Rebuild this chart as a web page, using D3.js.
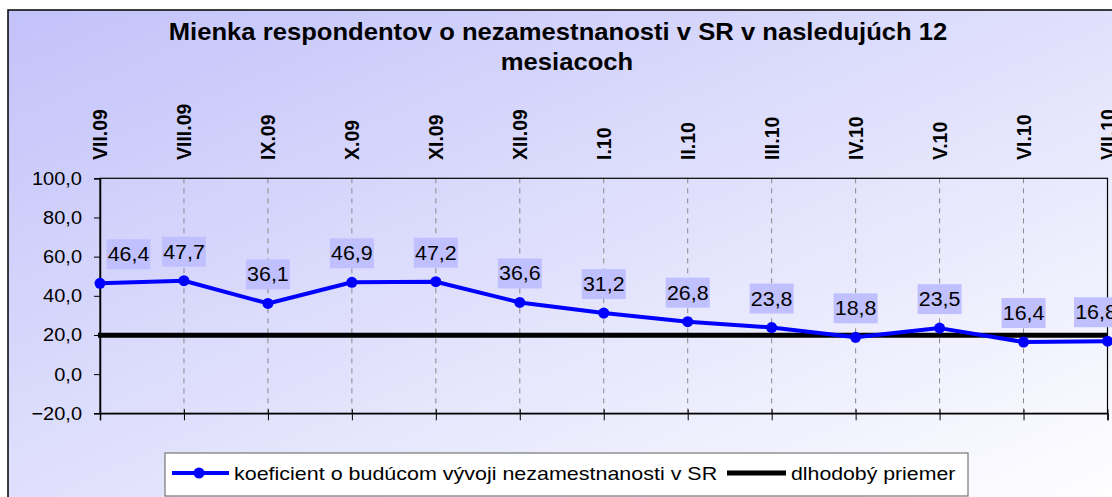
<!DOCTYPE html>
<html><head><meta charset="utf-8">
<script src="https://cdn.jsdelivr.net/npm/d3@7"></script>
<style>html,body{margin:0;padding:0;background:#fff;overflow:hidden}svg{display:block}text{font-family:"Liberation Sans",Arial,sans-serif}</style>
</head><body>
<script>
const categories = ["VII.09","VIII.09","IX.09","X.09","XI.09","XII.09","I.10","II.10","III.10","IV.10","V.10","VI.10","VII.10"];
const coefValues = [46.4,47.7,36.1,46.9,47.2,36.6,31.2,26.8,23.8,18.8,23.5,16.4,16.8];
const longTermAvg = 19.8;
const yTicks = [-20,0,20,40,60,80,100];
const titleLines = ["Mienka respondentov o nezamestnanosti v SR v nasledujúch 12","mesiacoch"];
const seriesNames = ["koeficient o budúcom vývoji nezamestnanosti v SR","dlhodobý priemer"];

const W=1112,H=497;
const svg=d3.select("body").append("svg").attr("width",W).attr("height",H);
const defs=svg.append("defs");
const g=defs.append("linearGradient").attr("id","bg").attr("x1","0").attr("y1","0").attr("x2","1").attr("y2","1");
g.append("stop").attr("offset","0").attr("stop-color","#c2c2fa");
g.append("stop").attr("offset","1").attr("stop-color","#ffffff");

svg.append("rect").attr("x",8).attr("y",10).attr("width",1120).attr("height",500)
  .attr("fill","url(#bg)").attr("stroke","#000").attr("stroke-width",1.5);

const fmt=v=>d3.format(".1f")(v).replace(".",",");
const L=100,R=1107.5,T=178.3,B=413.3;
const x=d3.scalePoint().domain(categories).range([L,R]);
const y=d3.scaleLinear().domain([-20,100]).range([B,T]);

// stretched text helper (reference glyphs are ~10% wider)
function stext(parent,px,py,txt,size,sx,anchor,bold){
  return parent.append("text").attr("transform",`translate(${px},${py}) scale(${sx},1)`)
    .attr("text-anchor",anchor||"start").attr("font-size",size)
    .attr("font-weight",bold?"bold":"normal").attr("fill","#000").text(txt);
}

// title
stext(svg,558,40,titleLines[0],23.5,1.09,"middle",true);
stext(svg,567,70,titleLines[1],23.5,1.09,"middle",true);

// gridlines
svg.append("g").selectAll("line").data(categories.slice(1,-1)).join("line")
  .attr("x1",d=>x(d)).attr("x2",d=>x(d)).attr("y1",T).attr("y2",B)
  .attr("stroke","#888").attr("stroke-width",1).attr("stroke-dasharray","5,5");

// plot border
svg.append("rect").attr("x",L).attr("y",T).attr("width",R-L).attr("height",B-T)
  .attr("fill","none").attr("stroke","#000").attr("stroke-width",1.2);

// y axis
const ya=svg.append("g").attr("transform",`translate(${L},0)`)
  .call(d3.axisLeft(y).tickValues(yTicks).tickFormat("").tickSize(6));
ya.select(".domain").attr("stroke","#000").attr("stroke-width",1.5);
const yl=svg.append("g");
yTicks.forEach(t=>stext(yl,82,y(t)+6.5,fmt(t),18.5,1.08,"end",false));

// x axis bottom ticks
const xa=svg.append("g").attr("transform",`translate(0,${B})`)
  .call(d3.axisBottom(x).tickSize(7).tickFormat(""));
xa.select(".domain").attr("stroke","#000").attr("stroke-width",1.5);
xa.selectAll(".tick line").attr("y1",-4).attr("stroke","#000");

// category labels top
svg.append("g").selectAll("text").data(categories).join("text")
  .attr("transform",d=>`translate(${x(d)},160) rotate(-90) scale(1,1.06)`).attr("dy","0.36em")
  .attr("font-size",19.5).attr("font-weight","bold").text(d=>d);

// long-term average line
svg.append("line").attr("x1",L-2).attr("x2",R).attr("y1",y(longTermAvg)).attr("y2",y(longTermAvg))
  .attr("stroke","#000").attr("stroke-width",5);

// series
const data=categories.map((c,i)=>({c,v:coefValues[i]}));
svg.append("path").datum(data).attr("fill","none").attr("stroke","#0000ff").attr("stroke-width",4)
  .attr("stroke-linejoin","round")
  .attr("d",d3.line().x(d=>x(d.c)).y(d=>y(d.v)));
svg.append("g").selectAll("circle").data(data).join("circle")
  .attr("cx",d=>x(d.c)).attr("cy",d=>y(d.v)).attr("r",5.5).attr("fill","#0000ff");

// data labels
const lab=svg.append("g").selectAll("g").data(data).join("g")
  .attr("transform",d=>{const cx=Math.min(Math.max(x(d.c),L+28.5),1096);return `translate(${cx},${y(d.v)-29})`;});
lab.append("rect").attr("x",-22).attr("y",-15).attr("width",44).attr("height",30).attr("fill","#c0c0ff");
lab.each(function(d){stext(d3.select(this),0,7,fmt(d.v),20,1.07,"middle",false);});

// legend
const lg=svg.append("g");
lg.append("rect").attr("x",165).attr("y",453).attr("width",803).attr("height",43)
  .attr("fill","#fff").attr("stroke","#777").attr("stroke-width",1.2);
lg.append("line").attr("x1",172).attr("x2",229).attr("y1",473).attr("y2",473).attr("stroke","#0000ff").attr("stroke-width",4);
lg.append("circle").attr("cx",199).attr("cy",473).attr("r",5.5).attr("fill","#0000ff");
stext(lg,234,480,seriesNames[0],19,1.13,"start",false);
lg.append("line").attr("x1",727).attr("x2",786).attr("y1",473).attr("y2",473).attr("stroke","#000").attr("stroke-width",5);
stext(lg,791,480,seriesNames[1],19,1.12,"start",false);
</script>
</body></html>
